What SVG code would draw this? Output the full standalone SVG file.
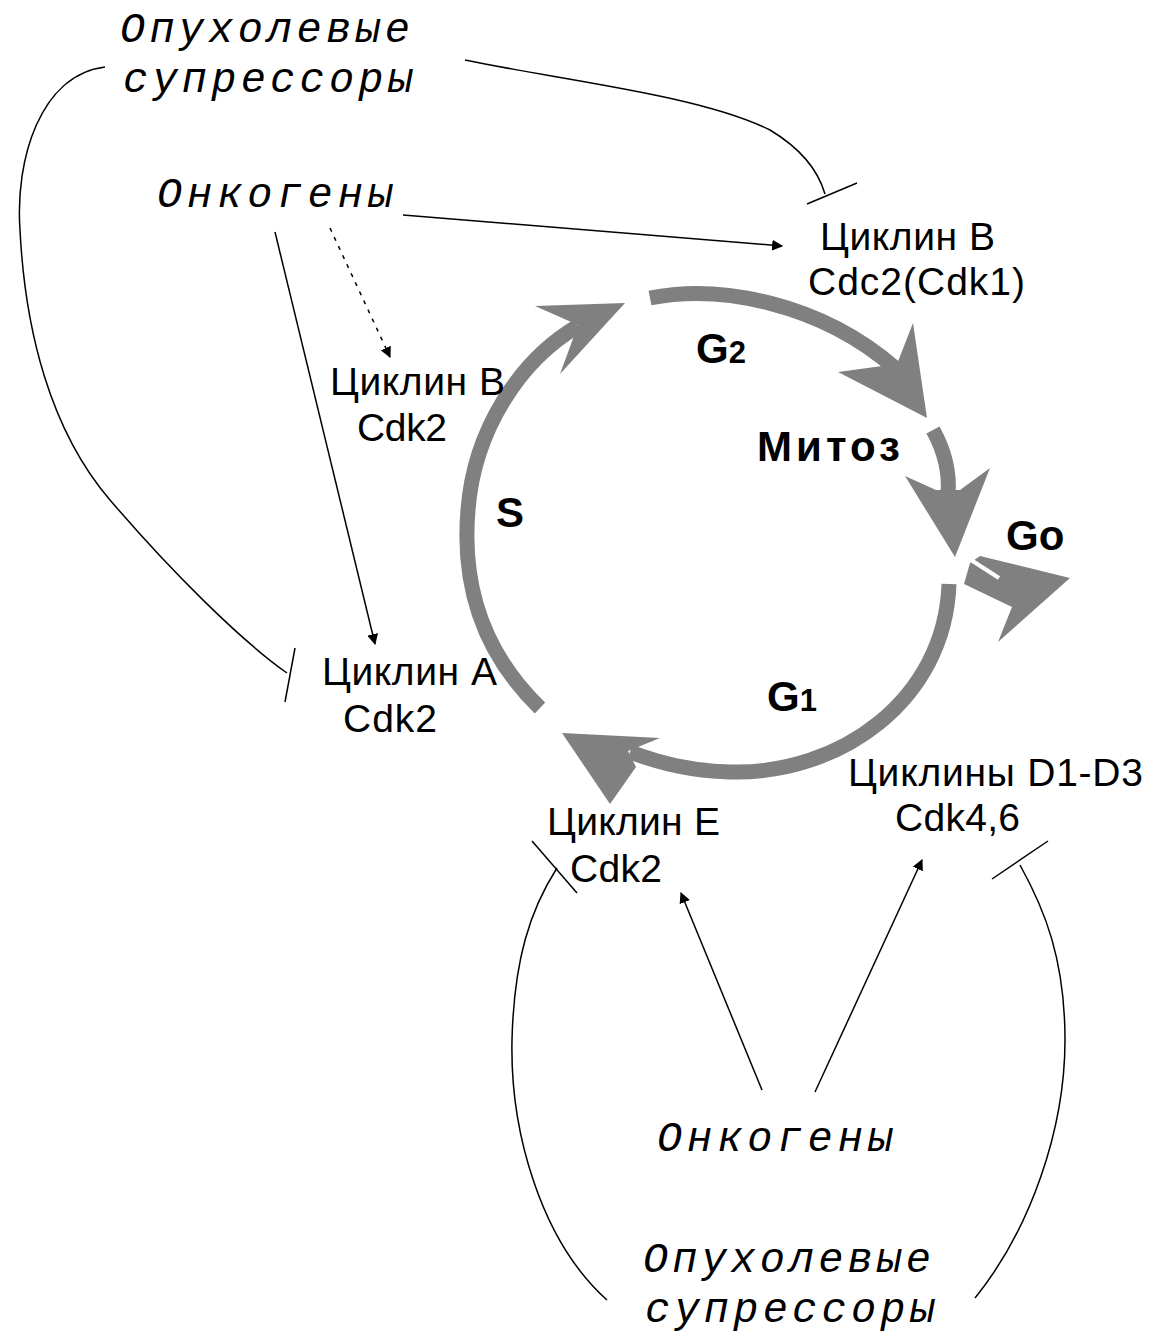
<svg xmlns="http://www.w3.org/2000/svg" width="1151" height="1339" viewBox="0 0 1151 1339">
<style>
.mono{font-family:"Liberation Mono","Courier New",monospace;font-style:italic;font-size:42px;fill:#000}
.sans{font-family:"Liberation Sans",Arial,sans-serif;font-size:39px;fill:#000}
.bold{font-family:"Liberation Sans",Arial,sans-serif;font-weight:bold;font-size:42px;fill:#000}
.conn{fill:none;stroke:#000;stroke-width:1.5}
.shaft{fill:none;stroke:#808080;stroke-width:15}
.head{fill:#808080;stroke:none}
</style>
<defs>
<marker id="arr" viewBox="0 0 10 10" refX="9" refY="5" markerWidth="11" markerHeight="11" markerUnits="userSpaceOnUse" orient="auto">
<path d="M0,0 L10,5 L0,10 z" fill="#000"/>
</marker>
</defs>
<rect width="1151" height="1339" fill="#fff"/>

<g id="cycle">
<g id="phase-S">
<path class="shaft" d="M540 708 C480 650 462 580 468 510 C474 430 520 360 578 326"/>
<polygon class="head" points="625,303 535,306 578,325 560,374"/>
</g>
<g id="phase-G2">
<path class="shaft" d="M650 298 C720 284 820 303 895 368"/>
<polygon class="head" points="927,418 838,372 897,364 913,323"/>
</g>
<g id="phase-M">
<path class="shaft" d="M933 430 C944 450 950 470 948 494"/>
<polygon class="head" points="955,557 905,476 936,490 960,490 990,468"/>
</g>
<g id="phase-Go">
<polygon class="head" points="964,584 970,563 980,556 1070,578 998,642 1012,607"/>
<line x1="971" y1="560" x2="999" y2="578" stroke="#fff" stroke-width="4"/>
</g>
<g id="phase-G1">
<path class="shaft" d="M949 584 C945 700 840 775 730 772 C690 771 660 763 630 752"/>
<polygon class="head" points="562,733 660,738 628,751 636,767 610,804"/>
</g>
</g>

<g id="labels-phases">
<text class="bold" x="696" y="363">G<tspan font-size="31px">2</tspan></text>
<text class="bold" x="757" y="461" textLength="143">Митоз</text>
<text class="bold" x="496" y="527">S</text>
<text class="bold" x="1006" y="550">Go</text>
<text class="bold" x="767" y="711">G<tspan font-size="31px">1</tspan></text>
</g>

<g id="node-supp-top">
<text class="mono" x="120" y="42" textLength="290">Опухолевые</text>
<text class="mono" x="123" y="92" textLength="290">супрессоры</text>
</g>
<g id="node-onco-top">
<text class="mono" x="157" y="207" textLength="236">Онкогены</text>
</g>
<g id="node-cycB-cdc2">
<text class="sans" x="820" y="250" textLength="175">Циклин В</text>
<text class="sans" x="808" y="295" textLength="217">Cdc2(Cdk1)</text>
</g>
<g id="node-cycB-cdk2">
<text class="sans" x="330" y="395" textLength="175">Циклин В</text>
<text class="sans" x="357" y="441" textLength="90">Cdk2</text>
</g>
<g id="node-cycA">
<text class="sans" x="322" y="685" textLength="175">Циклин А</text>
<text class="sans" x="343" y="732" textLength="94">Cdk2</text>
</g>
<g id="node-cycE">
<text class="sans" x="547" y="835" textLength="173">Циклин Е</text>
<text class="sans" x="570" y="882" textLength="92">Cdk2</text>
</g>
<g id="node-cycD">
<text class="sans" x="848" y="786" textLength="295">Циклины D1-D3</text>
<text class="sans" x="895" y="831" textLength="125">Cdk4,6</text>
</g>
<g id="node-onco-bottom">
<text class="mono" x="657" y="1151" textLength="236">Онкогены</text>
</g>
<g id="node-supp-bottom">
<text class="mono" x="643" y="1272" textLength="288">Опухолевые</text>
<text class="mono" x="645" y="1322" textLength="290">супрессоры</text>
</g>

<g id="connectors">
<line class="conn" x1="403" y1="215" x2="782" y2="246" marker-end="url(#arr)"/>
<line class="conn" x1="330" y1="228" x2="390" y2="357" stroke-dasharray="4 6" marker-end="url(#arr)"/>
<line class="conn" x1="275" y1="232" x2="375" y2="644" marker-end="url(#arr)"/>
<line class="conn" x1="762" y1="1090" x2="681" y2="893" marker-end="url(#arr)"/>
<line class="conn" x1="815" y1="1092" x2="922" y2="860" marker-end="url(#arr)"/>
<path class="conn" d="M105 67 C40 75 15 160 20 230 C25 330 50 430 110 500 C170 570 240 640 287 673"/>
<line class="conn" x1="295" y1="648" x2="285" y2="702"/>
<path class="conn" d="M465 60 C560 80 700 95 770 130 C800 148 818 170 825 194"/>
<line class="conn" x1="807" y1="204" x2="857" y2="183"/>
<path class="conn" d="M607 1300 C540 1240 510 1130 512 1040 C514 960 530 910 557 868"/>
<line class="conn" x1="532" y1="841" x2="577" y2="893"/>
<path class="conn" d="M975 1298 C1030 1230 1065 1130 1065 1040 C1065 960 1045 910 1020 865"/>
<line class="conn" x1="992" y1="879" x2="1048" y2="841"/>
</g>
</svg>
